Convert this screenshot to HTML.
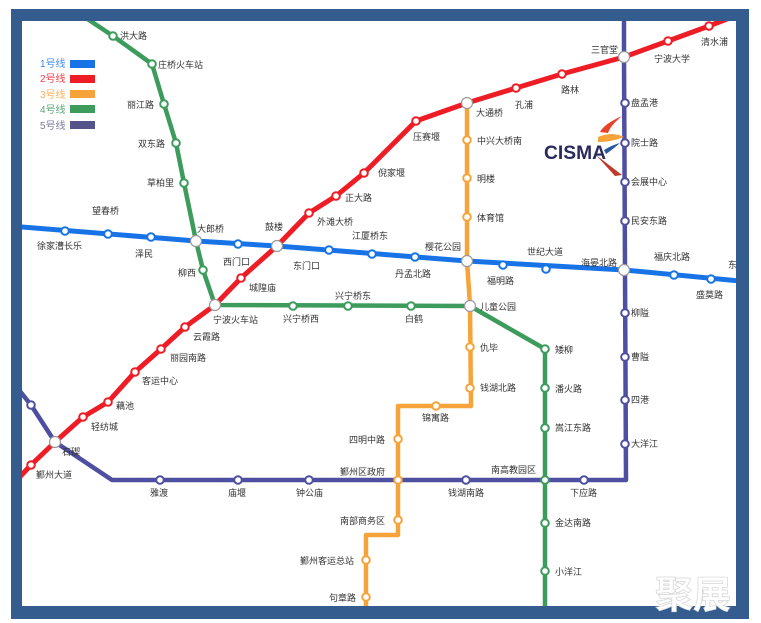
<!DOCTYPE html>
<html><head><meta charset="utf-8"><style>
html,body{margin:0;padding:0;background:#fff;}
svg{display:block;}
text{font-family:"Liberation Sans","Noto Sans CJK SC",sans-serif;font-size:9px;fill:#333;}
</style></head><body>
<svg width="761" height="623" viewBox="0 0 761 623" xmlns="http://www.w3.org/2000/svg">
<rect x="0" y="0" width="761" height="623" fill="#fff"/>
<rect x="11" y="9" width="738" height="610" fill="#355c8e"/>
<rect x="22" y="21" width="714" height="585" fill="#fff"/>
<defs><clipPath id="c"><rect x="22" y="21" width="714" height="585"/></clipPath></defs>
<g clip-path="url(#c)" fill="none" stroke-linejoin="round">
<polyline stroke="#1874e6" stroke-width="5" points="10,226 196,241 277,246 467,261 624,270 750,282"/>
<polyline stroke="#4e4fa0" stroke-width="4.5" points="624,10 624,57 625,270 626,480 112,480 55,442 31,405 15,385"/>
<polyline stroke="#f6a43a" stroke-width="4.5" points="467,103 467,261 470,305 471,406 398,406 398,535 366,535 366,620"/>
<polyline stroke="#3d9b5c" stroke-width="4.5" points="80,14 113,36 152,64 164,104 176,143 184,183 196,241 203,270 215,305 470,306 545,349 545,620"/>
<polyline stroke="#ee1c25" stroke-width="5" points="15,482 31,465 55,442 83,417 108,402 135,372 161,349 185,327 215,305 241,278 277,246 309,213 336,196 364,173 416,121 467,103 516,88 562,74 624,57 668,41 709,26 740,14"/>
</g>
<g fill="#fff" stroke-width="2">
<g stroke="#1874e6"><circle cx="65" cy="231" r="3.8"/><circle cx="108" cy="234" r="3.8"/><circle cx="151" cy="237" r="3.8"/><circle cx="238" cy="244" r="3.8"/><circle cx="329" cy="250" r="3.8"/><circle cx="372" cy="254" r="3.8"/><circle cx="415" cy="257" r="3.8"/><circle cx="503" cy="265" r="3.8"/><circle cx="546" cy="269" r="3.8"/><circle cx="674" cy="275" r="3.8"/><circle cx="711" cy="279" r="3.8"/></g>
<g stroke="#ee1c25"><circle cx="31" cy="465" r="3.8"/><circle cx="83" cy="417" r="3.8"/><circle cx="108" cy="402" r="3.8"/><circle cx="135" cy="372" r="3.8"/><circle cx="161" cy="349" r="3.8"/><circle cx="185" cy="327" r="3.8"/><circle cx="241" cy="278" r="3.8"/><circle cx="309" cy="213" r="3.8"/><circle cx="336" cy="196" r="3.8"/><circle cx="364" cy="173" r="3.8"/><circle cx="416" cy="121" r="3.8"/><circle cx="516" cy="88" r="3.8"/><circle cx="562" cy="74" r="3.8"/><circle cx="668" cy="41" r="3.8"/><circle cx="709" cy="26" r="3.8"/></g>
<g stroke="#f6a43a"><circle cx="467" cy="140" r="3.8"/><circle cx="467" cy="178" r="3.8"/><circle cx="467" cy="217" r="3.8"/><circle cx="470" cy="347" r="3.8"/><circle cx="470" cy="388" r="3.8"/><circle cx="436" cy="406" r="3.8"/><circle cx="398" cy="439" r="3.8"/><circle cx="398" cy="480" r="3.8"/><circle cx="398" cy="520" r="3.8"/><circle cx="366" cy="560" r="3.8"/><circle cx="366" cy="597" r="3.8"/></g>
<g stroke="#3d9b5c"><circle cx="113" cy="36" r="3.8"/><circle cx="152" cy="64" r="3.8"/><circle cx="164" cy="104" r="3.8"/><circle cx="176" cy="143" r="3.8"/><circle cx="184" cy="183" r="3.8"/><circle cx="203" cy="270" r="3.8"/><circle cx="293" cy="306" r="3.8"/><circle cx="348" cy="306" r="3.8"/><circle cx="411" cy="306" r="3.8"/><circle cx="545" cy="349" r="3.8"/><circle cx="545" cy="388" r="3.8"/><circle cx="545" cy="428" r="3.8"/><circle cx="545" cy="480" r="3.8"/><circle cx="545" cy="523" r="3.8"/><circle cx="545" cy="571" r="3.8"/></g>
<g stroke="#4e4fa0"><circle cx="31" cy="405" r="3.8"/><circle cx="625" cy="103" r="3.8"/><circle cx="625" cy="143" r="3.8"/><circle cx="625" cy="182" r="3.8"/><circle cx="625" cy="221" r="3.8"/><circle cx="625" cy="313" r="3.8"/><circle cx="625" cy="357" r="3.8"/><circle cx="625" cy="400" r="3.8"/><circle cx="625" cy="444" r="3.8"/><circle cx="584" cy="480" r="3.8"/><circle cx="466" cy="480" r="3.8"/><circle cx="309" cy="480" r="3.8"/><circle cx="238" cy="480" r="3.8"/><circle cx="160" cy="480" r="3.8"/></g>
<g stroke="#999" stroke-width="1.2"><circle cx="196" cy="241" r="5.5"/><circle cx="277" cy="246" r="5.5"/><circle cx="467" cy="261" r="5.5"/><circle cx="624" cy="270" r="5.5"/><circle cx="215" cy="305" r="5.5"/><circle cx="470" cy="306" r="5.5"/><circle cx="467" cy="103" r="5.5"/><circle cx="624" cy="57" r="5.5"/><circle cx="55" cy="442" r="5.5"/></g>
</g>
<g>
<text x="40" y="67" style="fill:#3d8bea;font-size:10px">1号线</text><rect x="70" y="60" width="25" height="8" fill="#1874e6"/>
<text x="40" y="82" style="fill:#ee3c44;font-size:10px">2号线</text><rect x="70" y="75" width="25" height="8" fill="#ee1c25"/>
<text x="40" y="98" style="fill:#f6b060;font-size:10px">3号线</text><rect x="70" y="90" width="25" height="8" fill="#f6a43a"/>
<text x="40" y="113" style="fill:#5aa476;font-size:10px">4号线</text><rect x="70" y="105" width="25" height="8" fill="#3d9b5c"/>
<text x="40" y="129" style="fill:#777a99;font-size:10px">5号线</text><rect x="70" y="121" width="25" height="8" fill="#55548a"/>
</g>
<g>
<text x="37" y="249">徐家漕长乐</text><text x="92" y="214">望春桥</text><text x="135" y="257">泽民</text><text x="197" y="232">大郎桥</text><text x="178" y="276">柳西</text><text x="223" y="265">西门口</text><text x="265" y="230">鼓楼</text><text x="293" y="269">东门口</text><text x="249" y="291">城隍庙</text><text x="317" y="225">外滩大桥</text><text x="345" y="201">正大路</text><text x="352" y="239">江厦桥东</text><text x="378" y="176">倪家堰</text><text x="413" y="140">压赛堰</text><text x="425" y="250">樱花公园</text><text x="395" y="277">丹孟北路</text><text x="527" y="255">世纪大道</text><text x="487" y="284">福明路</text><text x="581" y="266">海晏北路</text><text x="654" y="260">福庆北路</text><text x="696" y="298">盛莫路</text><text x="728" y="268">东</text>
<text x="476" y="116">大通桥</text><text x="515" y="108">孔浦</text><text x="561" y="93">路林</text><text x="591" y="53">三官堂</text><text x="654" y="62">宁波大学</text><text x="701" y="45">清水浦</text>
<text x="631" y="106">盘孟港</text><text x="631" y="146">院士路</text><text x="631" y="185">会展中心</text><text x="631" y="224">民安东路</text><text x="631" y="316">柳隘</text><text x="631" y="360">曹隘</text><text x="631" y="403">四港</text><text x="631" y="447">大洋江</text>
<text x="477" y="144">中兴大桥南</text><text x="477" y="182">明楼</text><text x="477" y="221">体育馆</text><text x="480" y="310">儿童公园</text><text x="480" y="351">仇毕</text><text x="480" y="391">钱湖北路</text><text x="422" y="421">锦寓路</text><text x="349" y="443">四明中路</text><text x="340" y="475">鄞州区政府</text><text x="340" y="524">南部商务区</text><text x="300" y="564">鄞州客运总站</text><text x="329" y="601">句章路</text>
<text x="120" y="39">洪大路</text><text x="158" y="68">庄桥火车站</text><text x="127" y="108">丽江路</text><text x="138" y="147">双东路</text><text x="147" y="186">草柏里</text><text x="213" y="323">宁波火车站</text><text x="283" y="322">兴宁桥西</text><text x="335" y="299">兴宁桥东</text><text x="405" y="322">白鹤</text><text x="555" y="353">矮柳</text><text x="555" y="392">潘火路</text><text x="555" y="431">嵩江东路</text><text x="491" y="473">南高教园区</text><text x="555" y="526">金达南路</text><text x="555" y="575">小洋江</text>
<text x="193" y="340">云霞路</text><text x="170" y="361">丽园南路</text><text x="142" y="384">客运中心</text><text x="116" y="409">藕池</text><text x="91" y="430">轻纺城</text><text x="62" y="455">石碶</text><text x="36" y="478">鄞州大道</text>
<text x="150" y="496">雅渡</text><text x="228" y="496">庙堰</text><text x="296" y="496">钟公庙</text><text x="448" y="496">钱湖南路</text><text x="570" y="496">下应路</text>
</g>
<path d="M600,132 Q604,124 622,116 Q610,126 608,133 Z" fill="#e8432a"/>
<path d="M598,137 Q612,131 624,137 Q612,142 598,142 Z" fill="#f6a43a"/>
<path d="M604,150 Q612,145 620,143 Q612,150 606,154 Z" fill="#2a5a9e"/>
<path d="M596,155 L622,175 L615,176 Z" fill="#c0392b"/>
<text x="544" y="159" textLength="62" lengthAdjust="spacingAndGlyphs" style="font-size:19px;font-weight:bold;fill:#2a2a5e">CISMA</text>
<text x="655" y="608" style="font-size:38px;font-weight:bold;fill:#fff;stroke:#d8d8d8;stroke-width:0.8">聚展</text>
</svg>
</body></html>
